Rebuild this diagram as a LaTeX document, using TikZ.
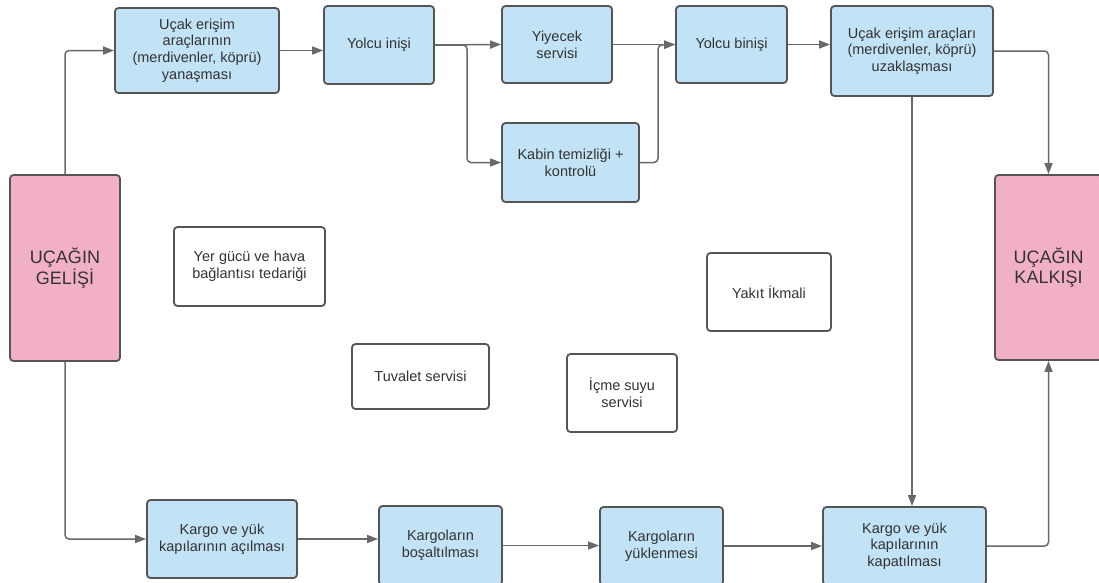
\documentclass[tikz,border=0pt]{standalone}
\usepackage{fontspec}
\setmainfont{Liberation Sans}
\usetikzlibrary{arrows.meta}
\definecolor{boxblue}{RGB}{194,226,245}
\definecolor{boxpink}{RGB}{242,176,197}
\definecolor{edgegray}{RGB}{85,85,85}
\definecolor{linegray}{RGB}{105,105,105}
\definecolor{txtgray}{RGB}{51,51,51}
\tikzset{
  basebox/.style={draw=edgegray, line width=1.8pt, rounded corners=3.5pt, align=center,
    text=txtgray, inner sep=2pt, font=\fontsize{14.5}{16.7}\selectfont},
  bluebox/.style={basebox, fill=boxblue},
  whitebox/.style={basebox, fill=white},
  pinkbox/.style={basebox, fill=boxpink, font=\fontsize{18}{20.5}\selectfont},
  conn/.style={draw=linegray, line width=1.5pt, rounded corners=4pt},
  arr/.style={conn, -{Triangle[length=11pt,width=8pt]}}
}
\begin{document}
\begin{tikzpicture}[x=1pt,y=-1pt]
\useasboundingbox (0,0) rectangle (1099,582);
\clip (0,0) rectangle (1099,582);
% top row
\node[bluebox, minimum width=164pt, minimum height=85pt] (A) at (197,50.5)
  {Uçak erişim\\araçlarının\\(merdivenler, köprü)\\yanaşması};
\node[bluebox, minimum width=110pt, minimum height=78pt] (B) at (379,45) {Yolcu inişi};
\node[bluebox, minimum width=110pt, minimum height=77pt] (C) at (557,44.5) {Yiyecek\\servisi};
\node[bluebox, minimum width=137pt, minimum height=79pt] (D) at (570.5,162.5) {Kabin temizliği +\\kontrolü};
\node[bluebox, minimum width=111pt, minimum height=77pt] (E) at (731.5,44.5) {Yolcu binişi};
\node[bluebox, minimum width=162pt, minimum height=90pt] (F) at (912,51)
  {Uçak erişim araçları\\(merdivenler, köprü)\\uzaklaşması};
% pink
\node[pinkbox, minimum width=110pt, minimum height=186pt] (L) at (65,268) {UÇAĞIN\\GELİŞİ};
\node[pinkbox, minimum width=107pt, minimum height=185pt] (R) at (1048.5,267.5) {UÇAĞIN\\KALKIŞI};
% white boxes
\node[whitebox, minimum width=151pt, minimum height=79pt] (Y) at (249.5,266.5) {Yer gücü ve hava\\bağlantısı tedariği};
\node[whitebox, minimum width=137pt, minimum height=65pt] (T) at (420.5,376.5) {Tuvalet servisi};
\node[whitebox, minimum width=110pt, minimum height=78pt] (S) at (622,393) {İçme suyu\\servisi};
\node[whitebox, minimum width=124pt, minimum height=78pt] (K2) at (769,292) {Yakıt İkmali};
% bottom row
\node[bluebox, minimum width=150pt, minimum height=78pt] (G) at (222,539) {Kargo ve yük\\kapılarının açılması};
\node[bluebox, minimum width=123pt, minimum height=79pt] (H) at (440.5,545.5) {Kargoların\\boşaltılması};
\node[bluebox, minimum width=123pt, minimum height=78pt] (I) at (661.5,546) {Kargoların\\yüklenmesi};
\node[bluebox, minimum width=163pt, minimum height=78pt] (K) at (904.5,546) {Kargo ve yük\\kapılarının\\kapatılması};
% junctions
\coordinate (j1) at (467,45);
\coordinate (j2) at (658,45);
% connectors top
\draw[arr] (L.north) |- (A.west);
\draw[arr] (A.east) -- (A.east -| B.west);
\draw[arr] (B.east) -- (C.west);
\draw[arr] (B.east) -- (j1) |- (D.west);
\draw[arr] (C.east) -- (E.west);
\draw[arr] (D.east) -| (j2) -- (E.west);
\draw[arr] (E.east) -- (E.east -| F.west);
\draw[arr] (F.east) -| (R.north);
\draw[arr] (F.south) -- (F.south |- K.north);
% connectors bottom
\draw[arr] (L.south) |- (G.west);
\draw[arr] (G.east) -- (G.east -| H.west);
\draw[arr] (H.east) -- (H.east -| I.west);
\draw[arr] (I.east) -- (I.east -| K.west);
\draw[arr] (K.east) -| (R.south);
\end{tikzpicture}
\end{document}
